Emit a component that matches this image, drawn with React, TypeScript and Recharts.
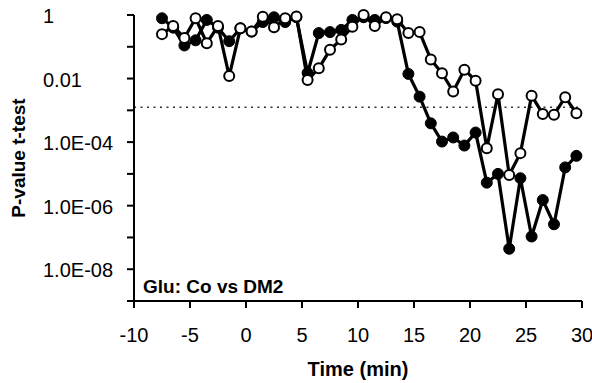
import React from 'react';
import { LineChart, Line, XAxis, YAxis, ReferenceLine } from 'recharts';

const times = [
  -7.5, -6.5, -5.5, -4.5, -3.5, -2.5, -1.5, -0.5, 0.5, 1.5, 2.5, 3.5, 4.5, 5.5, 6.5, 7.5, 8.5, 9.5, 10.5,
  11.5, 12.5, 13.5, 14.5, 15.5, 16.5, 17.5, 18.5, 19.5, 20.5, 21.5, 22.5, 23.5, 24.5, 25.5, 26.5, 27.5, 28.5, 29.5,
];

// filled circles
const filledP = [
  0.79, 0.4, 0.11, 0.16, 0.7, 0.4, 0.15, 0.38, 0.3, 0.6, 0.85, 0.6, 0.85, 0.015, 0.27, 0.29, 0.34, 0.7, 0.85,
  0.7, 0.8, 0.62, 0.014, 0.0027, 3.9e-4, 1.04e-4, 1.4e-4, 7.8e-5, 2.0e-4, 5.3e-6, 1.0e-5, 4.4e-8, 7.3e-6,
  1.07e-7, 1.5e-6, 2.6e-7, 1.6e-5, 3.7e-5,
];

// open circles
const openP = [
  0.25, 0.45, 0.19, 0.79, 0.13, 0.45, 0.012, 0.38, 0.3, 0.88, 0.41, 0.79, 0.9, 0.009, 0.021, 0.08, 0.17, 0.43, 1.0,
  0.45, 0.85, 0.73, 0.27, 0.29, 0.04, 0.0147, 0.0039, 0.019, 0.0086, 6.4e-5, 0.0032, 9.3e-6, 4.5e-5, 0.0029,
  7.7e-4, 7.2e-4, 0.0026, 8.1e-4,
];

const xTicks = [-10, -5, 0, 5, 10, 15, 20, 25, 30];
const yTicks = [1, 0.1, 0.01, 1e-3, 1e-4, 1e-5, 1e-6, 1e-7, 1e-8, 1e-9];
const yTickLabels: Record<string, string> = {
  '1': '1',
  '0.01': '0.01',
  '0.0001': '1.0E-04',
  '0.000001': '1.0E-06',
  '1e-8': '1.0E-08',
};
const threshold = 0.05 / 40;

const data = times.map((t, i) => ({ t, filled: filledP[i], open: openP[i] }));

const font = 'Arial, "Liberation Sans", sans-serif';

const YTick = (props: any) => {
  const { y, payload } = props;
  const label = yTickLabels[String(payload.value)] || '';
  return (
    <text x={43} y={y + 8} textAnchor="start" fontSize={20} fontFamily={font} fill="#000">
      {label}
    </text>
  );
};

const XTick = (props: any) => {
  const { x, payload } = props;
  return (
    <text x={x} y={342} textAnchor="middle" fontSize={20} fontFamily={font} fill="#000">
      {payload.value}
    </text>
  );
};

const App = () => {
  return (
    <div style={{ position: 'absolute', left: 0, top: 0, background: '#fff' }}>
      <LineChart width={592} height={383} data={data} margin={{ top: 15, right: 10, bottom: 0, left: 0 }}>
        <XAxis
          dataKey="t"
          type="number"
          domain={[-10, 30]}
          ticks={xTicks}
          tick={<XTick />}
          tickSize={7}
          height={82}
          stroke="#000"
          strokeWidth={2}
          tickLine={{ stroke: '#000', strokeWidth: 2 }}
        />
        <YAxis
          type="number"
          scale="log"
          domain={[1e-9, 1]}
          ticks={yTicks}
          tick={<YTick />}
          tickSize={7}
          width={134}
          stroke="#000"
          strokeWidth={2}
          tickLine={{ stroke: '#000', strokeWidth: 2 }}
        />
        <ReferenceLine y={threshold} stroke="#333" strokeWidth={1.5} strokeDasharray="2 4.5" />
        <Line
          dataKey="filled"
          stroke="#000"
          strokeWidth={3.2}
          dot={{ r: 5.5, fill: '#000', stroke: '#000', strokeWidth: 1 }}
          isAnimationActive={false}
        />
        <Line
          dataKey="open"
          stroke="#000"
          strokeWidth={3.2}
          dot={{ r: 5, fill: '#fff', stroke: '#000', strokeWidth: 2 }}
          isAnimationActive={false}
        />
        <text x={143} y={293} fontSize={19} fontWeight="bold" fontFamily={font} fill="#000">
          Glu: Co vs DM2
        </text>
        <text x={358} y={376} textAnchor="middle" fontSize={20} fontWeight="bold" fontFamily={font} fill="#000">
          Time (min)
        </text>
        <text
          x={25}
          y={158}
          transform="rotate(-90 25 158)"
          textAnchor="middle"
          fontSize={19}
          fontWeight="bold"
          fontFamily={font}
          fill="#000"
        >
          P-value t-test
        </text>
      </LineChart>
    </div>
  );
};

export default App;
